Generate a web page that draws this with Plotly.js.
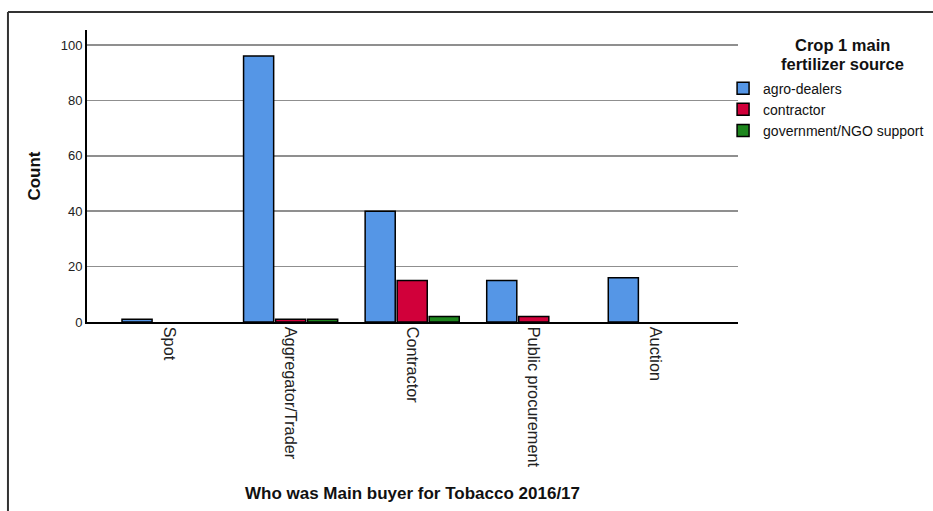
<!DOCTYPE html>
<html>
<head>
<meta charset="utf-8">
<script src="https://cdn.plot.ly/plotly-3.0.1.min.js"></script>
<style>
  html, body { margin: 0; padding: 0; background: #fff; }
  #chart { width: 933px; height: 511px; }
</style>
</head>
<body>
<div id="chart"></div>
<script>
// Data (null = no bar drawn)
const categories = ["Spot", "Aggregator/Trader", "Contractor", "Public procurement", "Auction"];
const seriesNames = ["agro-dealers", "contractor", "government/NGO support"];
const agroDealers = [1, 96, 40, 15, 16];
const contractor = [null, 1, 15, 2, null];
const govNgo = [null, 1, 2, null, null];
const yTicks = [0, 20, 40, 60, 80, 100];
const legendTitleLines = ["Crop 1 main", "fertilizer source"];

const colors = ["#5596E6", "#D1003A", "#1D861D"];
const seriesValues = [agroDealers, contractor, govNgo];

const traces = seriesValues.map((vals, i) => ({
  type: "bar",
  name: seriesNames[i],
  x: categories,
  y: vals,
  marker: { color: colors[i], line: { color: "#000", width: 1.5 } },
  hoverinfo: "x+y+name"
}));

const font = "Liberation Sans, Arial, sans-serif";

const layout = {
  width: 933,
  height: 511,
  margin: { l: 87, r: 195, t: 30, b: 189, autoexpand: false },
  paper_bgcolor: "#fff",
  plot_bgcolor: "#fff",
  font: { family: font, color: "#222" },
  barmode: "group",
  bargap: 0.21,
  bargroupgap: 0.06,
  showlegend: true,
  legend: {
    xref: "container", yref: "container",
    x: 0.775, xanchor: "left",
    y: 0.858, yanchor: "top",
    font: { size: 14, family: font, color: "#111" },
    bgcolor: "rgba(0,0,0,0)",
    itemwidth: 30,
    tracegroupgap: 0
  },
  annotations: legendTitleLines.map((t, i) => ({
    xref: "paper", yref: "paper",
    x: 1.1605, y: 0.949 - i * 0.064,
    xanchor: "center", yanchor: "middle",
    text: "<b>" + t + "</b>",
    showarrow: false,
    font: { size: 16.5, family: font, color: "#111" }
  })),
  xaxis: {
    type: "category",
    range: [-0.675, 4.68],
    tickangle: 90,
    tickfont: { size: 16.3, family: font, color: "#222" },
    showline: true, linecolor: "#000", linewidth: 1.5,
    showgrid: false, zeroline: false,
    ticks: "",
    automargin: false,
    title: { text: "<b>Who was Main buyer for Tobacco 2016/17</b>", font: { size: 17, family: font, color: "#111" }, standoff: 20 }
  },
  yaxis: {
    range: [0, 105.4],
    tickvals: yTicks,
    ticktext: yTicks.map(String),
    tickfont: { size: 13, family: font, color: "#222" },
    ticks: "",
    ticklabelstandoff: 0,
    showline: true, linecolor: "#000", linewidth: 2,
    showgrid: true, gridcolor: "#8f8f8f", gridwidth: 1.5,
    zeroline: false,
    automargin: false,
    title: { text: "<b>Count</b>", font: { size: 17, family: font, color: "#111" }, standoff: 16 }
  },
  shapes: [
    { type: "line", xref: "paper", yref: "paper", x0: -0.1214, x1: 1.5, y0: 1.0616, y1: 1.0616, line: { color: "#333", width: 2 } },
    { type: "line", xref: "paper", yref: "paper", x0: -0.1214, x1: -0.1214, y0: 1.0616, y1: -0.7, line: { color: "#333", width: 2 } }
  ]
};

Plotly.newPlot("chart", traces, layout, { displayModeBar: false, staticPlot: true });
</script>
</body>
</html>
